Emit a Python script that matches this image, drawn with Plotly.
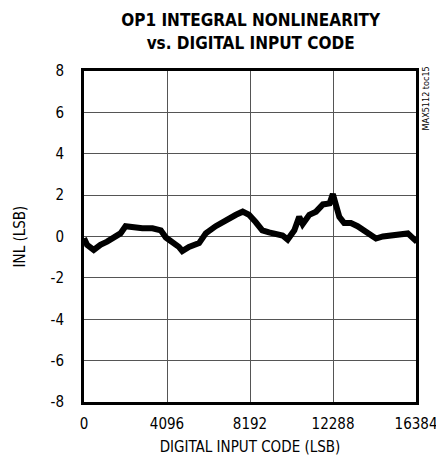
import plotly.graph_objects as go

codes = [0, 150, 480, 810, 1140, 1470, 1800, 2050, 2380, 2880, 3380, 3790, 4040,
         4350, 4680, 4850, 5180, 5680, 6010, 6500, 7000, 7500, 7830, 8140,
         8470, 8800, 9130, 9470, 9800, 10050, 10380, 10620, 10790, 11120, 11450,
         11790, 12120, 12280, 12430, 12600, 12840, 13170, 13500, 13920, 14410,
         14750, 15150, 15570, 15980, 16310, 16383]
inl = [-0.08, -0.4, -0.65, -0.4, -0.25, -0.08, 0.15, 0.5, 0.45, 0.4, 0.4, 0.3, -0.05,
       -0.25, -0.5, -0.7, -0.5, -0.32, 0.15, 0.5, 0.8, 1.05, 1.2, 1.05,
       0.7, 0.3, 0.2, 0.15, 0.05, -0.15, 0.3, 0.95, 0.6, 1.05, 1.2,
       1.55, 1.6, 2.05, 1.55, 0.95, 0.65, 0.65, 0.5, 0.25, -0.1,
       0.0, 0.05, 0.15, 0.15, -0.15, -0.05]

x_ticks = [0, 4096, 8192, 12288, 16384]
y_ticks = [-8, -6, -4, -2, 0, 2, 4, 6, 8]

FONT = "Liberation Sans Narrow, DejaVu Sans Condensed, Arial Narrow, sans-serif"

fig = go.Figure()
fig.add_trace(go.Scatter(x=codes, y=inl, mode="lines",
                         line=dict(color="black", width=6), showlegend=False))

fig.update_layout(
    width=436, height=464,
    margin=dict(l=84, r=20, t=71, b=62, autoexpand=False),
    paper_bgcolor="white", plot_bgcolor="white",
    font=dict(family=FONT, size=15, color="black"),
    title=dict(text="<b>OP1 INTEGRAL NONLINEARITY<br>vs. DIGITAL INPUT CODE</b>",
               x=0.575, xanchor="center", y=0.943, yanchor="top",
               font=dict(family=FONT, size=17, color="black")),
    xaxis=dict(range=[0, 16384], tickvals=x_ticks, ticktext=[str(v) for v in x_ticks],
               showgrid=True, gridcolor="#555555", gridwidth=1,
               showline=True, linecolor="black", linewidth=3, mirror=True,
               zeroline=False, ticks="", ticklen=0, automargin=False,
               ticklabelstandoff=6, ticklabeloverflow="allow",
               title=dict(text="DIGITAL INPUT CODE (LSB)", standoff=10,
                          font=dict(family=FONT, size=15))),
    yaxis=dict(range=[-8, 8], tickvals=y_ticks, ticktext=[str(v) for v in y_ticks],
               showgrid=True, gridcolor="#555555", gridwidth=1,
               showline=True, linecolor="black", linewidth=3, mirror=True,
               zeroline=False, ticks="", ticklen=0, automargin=False,
               ticklabelstandoff=14, ticklabeloverflow="allow",
               title=dict(text="INL (LSB)", standoff=22,
                          font=dict(family=FONT, size=15))),
)

fig.add_annotation(text="MAX5112 toc15", xref="paper", yref="paper",
                   x=1.0, y=1.02, xanchor="left", yanchor="top", xshift=3,
                   textangle=-90, showarrow=False,
                   font=dict(family=FONT, size=9, color="black"))

fig.write_html("out.html", config={"displayModeBar": False},
               post_script="document.body.style.margin='0';")
